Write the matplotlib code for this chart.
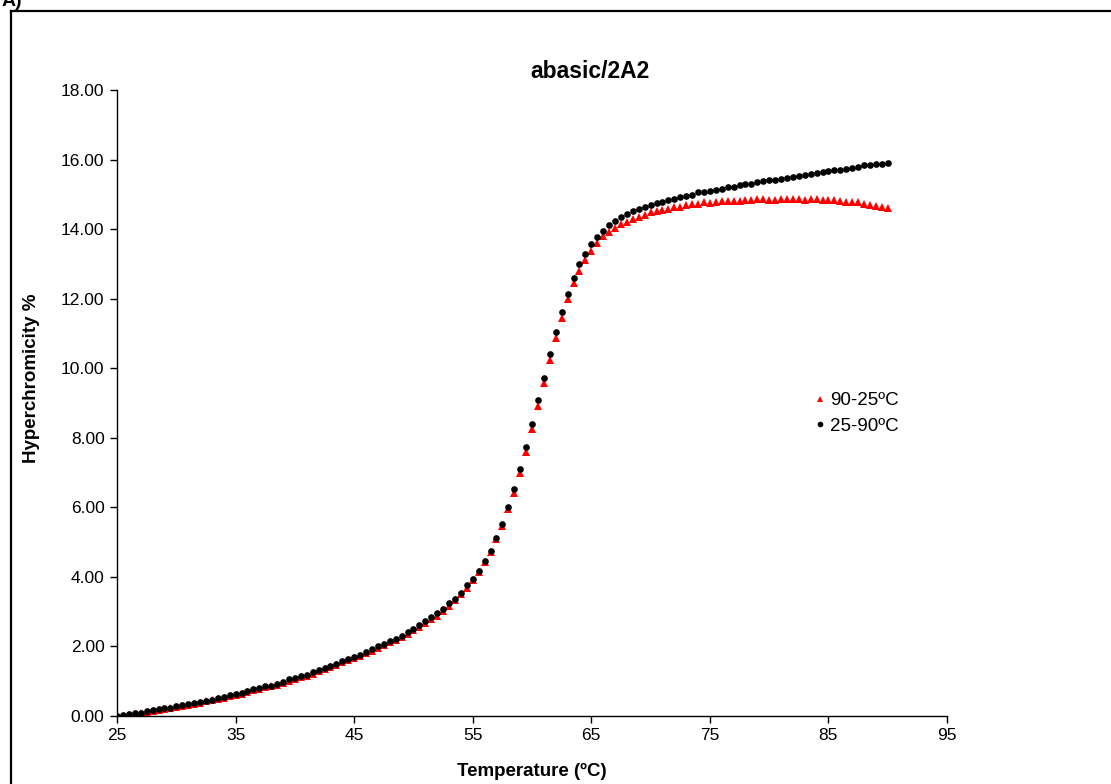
import numpy as np
import matplotlib.pyplot as plt
from matplotlib.lines import Line2D

plt.rcParams['font.family'] = ['Liberation Sans', 'DejaVu Sans']

# temperature grid, 0.5 degree steps from 25 to 90
temps = np.arange(25, 90.5, 0.5)

# heating run 25 -> 90
heating = [
    0.00, 0.02, 0.06, 0.09, 0.10, 0.15, 0.17, 0.19, 0.22, 0.24,
    0.28, 0.31, 0.34, 0.36, 0.41, 0.44, 0.47, 0.53, 0.56, 0.60,
    0.64, 0.66, 0.72, 0.78, 0.81, 0.85, 0.87, 0.93, 0.98, 1.05,
    1.10, 1.16, 1.19, 1.26, 1.31, 1.37, 1.44, 1.50, 1.58, 1.63,
    1.71, 1.75, 1.84, 1.92, 2.00, 2.08, 2.16, 2.22, 2.30, 2.42,
    2.51, 2.62, 2.72, 2.85, 2.97, 3.08, 3.24, 3.36, 3.55, 3.76,
    3.95, 4.18, 4.46, 4.75, 5.13, 5.53, 6.00, 6.54, 7.11, 7.73,
    8.40, 9.08, 9.73, 10.40, 11.03, 11.61, 12.12, 12.60, 13.01, 13.29,
    13.56, 13.78, 13.96, 14.12, 14.23, 14.34, 14.43, 14.52, 14.58, 14.64,
    14.70, 14.75, 14.79, 14.84, 14.88, 14.92, 14.95, 14.97, 15.06, 15.06,
    15.10, 15.13, 15.15, 15.20, 15.22, 15.27, 15.29, 15.31, 15.35, 15.37,
    15.40, 15.42, 15.45, 15.46, 15.50, 15.52, 15.56, 15.59, 15.61, 15.63,
    15.66, 15.69, 15.71, 15.74, 15.77, 15.78, 15.84, 15.83, 15.86, 15.88,
    15.91,
]

# cooling run 90 -> 25
cooling = [
    0.00, 0.00, 0.03, 0.06, 0.08, 0.12, 0.14, 0.17, 0.19, 0.22,
    0.25, 0.28, 0.31, 0.34, 0.38, 0.42, 0.45, 0.49, 0.53, 0.57,
    0.61, 0.64, 0.69, 0.74, 0.78, 0.82, 0.85, 0.90, 0.95, 1.01,
    1.06, 1.12, 1.16, 1.22, 1.28, 1.34, 1.40, 1.47, 1.54, 1.60,
    1.67, 1.73, 1.80, 1.88, 1.96, 2.04, 2.12, 2.19, 2.27, 2.37,
    2.47, 2.57, 2.67, 2.78, 2.88, 3.03, 3.17, 3.34, 3.51, 3.69,
    3.91, 4.14, 4.42, 4.72, 5.08, 5.45, 5.94, 6.41, 7.00, 7.58,
    8.26, 8.91, 9.58, 10.24, 10.87, 11.45, 11.98, 12.46, 12.80, 13.11,
    13.38, 13.60, 13.79, 13.92, 14.02, 14.14, 14.21, 14.28, 14.35, 14.41,
    14.48, 14.52, 14.56, 14.58, 14.63, 14.64, 14.70, 14.72, 14.72, 14.79,
    14.76, 14.77, 14.80, 14.81, 14.81, 14.81, 14.83, 14.84, 14.87, 14.86,
    14.84, 14.85, 14.86, 14.87, 14.87, 14.86, 14.85, 14.86, 14.86, 14.84,
    14.84, 14.83, 14.81, 14.79, 14.77, 14.77, 14.72, 14.69, 14.67, 14.65,
    14.60,
]

W, H = 1111, 784
fig = plt.figure(figsize=(W / 100, H / 100), dpi=100)
ax = fig.add_axes([117 / W, 1 - 716 / H, (947 - 117) / W, (716 - 90) / H])

ax.plot(temps, cooling, linestyle='none', marker='^', markersize=5.4,
        color='red', markeredgewidth=0, label='90-25ºC')
ax.plot(temps, heating, linestyle='none', marker='o', markersize=4.8,
        color='black', markeredgewidth=0, label='25-90ºC')

ax.set_xlim(25, 95)
ax.set_ylim(0, 18)
ax.set_xticks(np.arange(25, 96, 10))
ax.set_yticks(np.arange(0, 18.1, 2))
ax.yaxis.set_major_formatter(plt.FormatStrFormatter('%.2f'))
ax.tick_params(direction='out', length=5, width=1, labelsize=12.5, pad=4)
for side in ['top', 'right']:
    ax.spines[side].set_visible(False)
for side in ['left', 'bottom']:
    ax.spines[side].set_linewidth(1)

fig.text(590 / W, 1 - 72 / H, 'abasic/2A2', ha='center', va='center',
         fontsize=16.5, fontweight='bold')
fig.text(532 / W, 1 - 771 / H, 'Temperature (ºC)', ha='center', va='center',
         fontsize=13.5, fontweight='bold')
fig.text(32 / W, 1 - 378 / H, 'Hyperchromicity %', ha='center', va='center',
         rotation=90, fontsize=13.5, fontweight='bold')

ax.legend(loc='upper left', bbox_to_anchor=(805 / W, 1 - 383 / H),
          bbox_transform=fig.transFigure, frameon=False, fontsize=13.5,
          handlelength=0.6, handletextpad=0.25, labelspacing=0.45,
          markerscale=0.85, borderpad=0)

# outer frame, runs off the right and bottom edges
fig.add_artist(Line2D([10.5 / W, 10.5 / W], [1 - 10.5 / H, -0.05],
                      transform=fig.transFigure, color='black', linewidth=1.6))
fig.add_artist(Line2D([10.5 / W, 1.05], [1 - 10.5 / H, 1 - 10.5 / H],
                      transform=fig.transFigure, color='black', linewidth=1.6))
fig.text(2 / W, 1 - 6 / H, 'A)', ha='left', va='baseline',
         fontsize=14, fontweight='bold')

fig.savefig('out.png', dpi=100)
